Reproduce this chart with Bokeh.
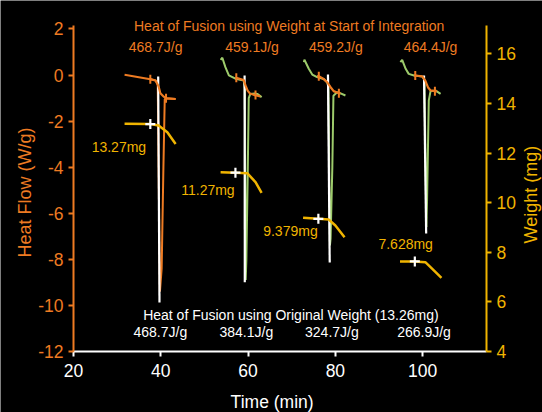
import numpy as np
from bokeh.plotting import figure
from bokeh.models import Range1d, LinearAxis, FixedTicker, Label, PrintfTickFormatter
from bokeh.embed import file_html
from bokeh.resources import INLINE

# ---------------- data (time in min, heat flow in W/g, weight in mg) ----------------
# DSC curves (sample 1 orange, samples 2-4 green)
s1_t = [31.7, 37.6, 38.8, 39.3, 39.5, 39.8, 40.2, 40.6, 40.9, 41.2, 43.4]
s1_hf = [0.01, -0.18, -0.24, -0.40, -4.0, -9.4, -8.4, -4.0, -1.05, -1.01, -1.04]
s2_t = [53.7, 54.1, 54.8, 55.6, 57.1, 59.0, 59.25, 59.45, 59.6, 59.9, 60.15, 60.5, 61.5, 62.1, 63.1]
s2_hf = [0.66, 0.75, 0.34, -0.02, -0.16, -0.24, -0.6, -8.9, -8.05, -4.5, -1.0, -0.82, -0.80, -0.82, -0.96]
s3_t = [72.8, 72.9, 73.9, 74.7, 75.8, 77.3, 78.1, 78.4, 78.75, 78.9, 79.3, 79.55, 80.4, 81.2, 82.3]
s3_hf = [0.56, 0.66, 0.27, 0.02, -0.09, -0.17, -0.31, -0.5, -7.4, -7.1, -4.0, -0.9, -0.75, -0.80, -0.89]
s4_t = [94.9, 95.3, 96.1, 96.8, 98.0, 99.9, 100.4, 100.85, 101.0, 101.4, 101.8, 102.9, 104.1]
s4_hf = [0.56, 0.66, 0.27, 0.05, -0.02, -0.06, -0.2, -6.6, -5.45, -1.1, -0.70, -0.67, -0.82]

# integration regions (orange) and their limits
i1_t = [37.6, 38.8, 39.5, 39.9, 40.7, 41.2, 43.4]
i1_hf = [-0.18, -0.24, -0.50, -0.79, -0.94, -1.01, -1.04]
i2_t = [57.1, 59.0, 59.5, 59.9, 60.4, 61.3, 62.8]
i2_hf = [-0.11, -0.22, -0.50, -0.68, -0.80, -0.86, -0.93]
i3_t = [75.8, 76.2, 77.3, 78.1, 78.9, 79.6, 80.8, 81.2]
i3_hf = [-0.06, -0.05, -0.17, -0.31, -0.53, -0.70, -0.79, -0.79]
i4_t = [98.0, 98.3, 99.9, 100.6, 101.2, 101.8, 102.8, 103.3]
i4_hf = [-0.02, -0.02, -0.06, -0.24, -0.53, -0.67, -0.70, -0.70]
lim_t = [37.6, 41.2, 57.3, 61.7, 76.2, 80.8, 98.3, 102.8]
lim_hf = [-0.18, -1.01, -0.12, -0.87, -0.05, -0.79, -0.02, -0.70]

# white curves (original-weight heat flow)
w1_t, w1_hf = [39.4, 39.7], [-0.06, -9.87]
w2_t, w2_hf = [59.2, 59.25], [-0.02, -9.0]
w3_t, w3_hf = [78.3, 78.7], [0.02, -8.14]
w4_t, w4_hf = [100.3, 100.8], [-0.02, -6.88]

# weight curves
m1_t, m1_w = [31.7, 37.6, 39.5, 41.5, 43.4], [13.18, 13.17, 13.11, 12.84, 12.37]
m2_t, m2_w = [53.7, 57.1, 59.8, 61.7, 63.1], [11.23, 11.21, 11.19, 10.83, 10.40]
m3_t, m3_w = [72.6, 76.1, 78.5, 80.0, 82.1], [9.39, 9.35, 9.32, 9.08, 8.61]
m4_t, m4_w = [94.8, 98.2, 100.6, 102.2, 104.3], [7.63, 7.63, 7.60, 7.33, 6.97]
start_t = [37.6, 57.1, 76.1, 98.2]
start_w = [13.17, 11.21, 9.35, 7.63]

# texts
start_heat = ["468.7J/g", "459.1J/g", "459.2J/g", "464.4J/g"]
start_heat_t = [38.8, 60.9, 80.1, 101.8]
orig_heat = ["468.7J/g", "384.1J/g", "324.7J/g", "266.9J/g"]
orig_heat_t = [39.9, 59.6, 79.2, 100.3]
weights = ["13.27mg", "11.27mg", "9.379mg", "7.628mg"]
weights_t = [30.4, 50.8, 69.7, 96.1]
weights_y = [12.26, 10.51, 8.84, 8.33]
hf_ticks = [-12, -10, -8, -6, -4, -2, 0, 2]
t_ticks = [20, 40, 60, 80, 100]
w_ticks = [4, 6, 8, 10, 12, 14, 16]
t_lim = (20, 114.6)      # extent of the time axis
hf_lim = (-12, 2.15)     # extent of the heat-flow axis
w_lim = (4, 17.15)       # extent of the weight axis

# ---------------- style ----------------
ORANGE = "#EE7B22"
YELLOW = "#F0B400"
GREEN = "#9DCB6B"
WHITE = "#FFFFFF"
FONT = "Liberation Sans"

p = figure(width=542, height=412, output_backend="svg", toolbar_location=None,
           x_range=Range1d(3.276, 127.45), y_range=Range1d(-14.648, 3.234),
           min_border_left=0, min_border_right=0, min_border_top=0,
           min_border_bottom=0)
p.extra_y_ranges = {"w": Range1d(1.540, 18.153)}
p.background_fill_color = "black"
p.border_fill_color = "black"
p.outline_line_color = None
p.xgrid.visible = False
p.ygrid.visible = False

p.add_layout(LinearAxis(y_range_name="w"), "right")


def style_axis(ax, color, ticks, bounds, loc):
    ax.ticker = FixedTicker(ticks=ticks)
    ax.formatter = PrintfTickFormatter(format="%d")
    ax.bounds = bounds
    ax.fixed_location = loc
    ax.axis_line_color = color
    ax.axis_line_width = 2
    ax.major_tick_line_color = color
    ax.major_tick_line_width = 2
    ax.major_tick_out = 5
    ax.major_tick_in = 0
    ax.minor_tick_line_color = None
    ax.major_label_text_color = color
    ax.major_label_text_font = FONT
    ax.major_label_text_font_size = "17.5px"
    ax.major_label_standoff = 5


style_axis(p.left[0], ORANGE, hf_ticks, hf_lim, t_lim[0])
style_axis(p.below[0], WHITE, t_ticks, t_lim, hf_lim[0])
style_axis(p.right[0], YELLOW, w_ticks, w_lim, t_lim[1])
p.below[0].major_label_standoff = 8

# DSC curves
p.line(s1_t, s1_hf, line_color=ORANGE, line_width=2)
for tt, hh in [(s2_t, s2_hf), (s3_t, s3_hf), (s4_t, s4_hf)]:
    p.line(tt, hh, line_color=GREEN, line_width=2)

# white curves
for tt, hh in [(w1_t, w1_hf), (w2_t, w2_hf), (w3_t, w3_hf), (w4_t, w4_hf)]:
    p.line(tt, hh, line_color=WHITE, line_width=2.2)

# integration regions
for tt, hh in [(i1_t, i1_hf), (i2_t, i2_hf), (i3_t, i3_hf), (i4_t, i4_hf)]:
    p.line(tt, hh, line_color=ORANGE, line_width=2.2)
p.scatter(lim_t, lim_hf, marker="dash", angle=np.pi / 2, size=9,
          line_color=ORANGE, line_width=2)

# weight curves
for tt, ww in [(m1_t, m1_w), (m2_t, m2_w), (m3_t, m3_w), (m4_t, m4_w)]:
    p.line(tt, ww, line_color=YELLOW, line_width=2.5, y_range_name="w")
p.scatter(start_t, start_w, marker="cross", size=10, line_color=WHITE,
          line_width=2.2, y_range_name="w")


# texts
def lab(x, y, text, color, size="14px", **kw):
    p.add_layout(Label(x=x, y=y, text=text, text_color=color, text_font=FONT,
                       text_font_size=size, text_align="center",
                       text_baseline=kw.pop("baseline", "alphabetic"), **kw))


lab(69.4, 2.11, "Heat of Fusion using Weight at Start of Integration", ORANGE)
for x, s in zip(start_heat_t, start_heat):
    lab(x, 1.20, s, ORANGE)
lab(69.8, -10.40, "Heat of Fusion using Original Weight (13.26mg)", WHITE)
for x, s in zip(orig_heat_t, orig_heat):
    lab(x, -11.17, s, WHITE)
for x, y, s in zip(weights_t, weights_y, weights):
    lab(x, y, s, YELLOW, y_range_name="w")

# axis titles
lab(65.5, -14.21, "Time (min)", WHITE, size="17.5px", baseline="middle")
lab(9.0, -5.10, "Heat Flow (W/g)", ORANGE, size="18px", angle=np.pi / 2,
    baseline="middle")
lab(124.9, -5.19, "Weight (mg)", YELLOW, size="18px", angle=np.pi / 2,
    baseline="middle")

open("out.html", "w").write(file_html(p, INLINE))
